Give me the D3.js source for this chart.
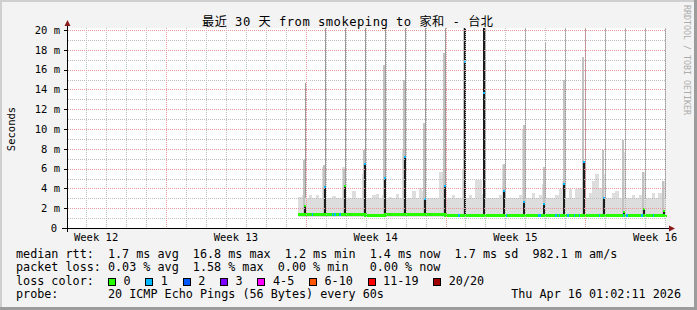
<!DOCTYPE html>
<html>
<head>
<meta charset="utf-8">
<script src="https://cdn.jsdelivr.net/npm/d3@7"></script>
<style>
body { margin: 0; background: #f3f3f3; }
text { font-family: "DejaVu Sans Mono", monospace; white-space: pre; }
</style>
</head>
<body>
<svg id="mainsvg" width="697" height="310"></svg>
<script>
const svg = d3.select('#mainsvg')
const width = +svg.attr('width')
const height = +svg.attr('height')

const parseDay = d3.timeParse('%Y-%m-%d')
const parseTime = d3.timeParse('%Y-%m-%d %H:%M')

// graph window: last 30 days up to the render time
const endTime = new Date(2026, 3, 16, 1, 2, 11)
const startTime = d3.timeDay.offset(endTime, -30)

const yTicks = [0, 2, 4, 6, 8, 10, 12, 14, 16, 18, 20]
const yTickLabels = ['0', '2 m', '4 m', '6 m', '8 m', '10 m', '12 m', '14 m', '16 m', '18 m', '20 m']

// smoke (light grey) upper edge, ms, one value per 4h from Mar 28 16:00
const dataStart = parseTime('2026-03-28 15:00')
const sampleStart = parseTime('2026-03-28 16:00')
const smokeLow = 1.1
const smokeTop = [
  3.1, 3.3,                         // Mar 28
  3.0, 3.3, 3.0, 3.3, 3.0, 6.2,     // Mar 29
  3.0, 3.0, 3.2, 3.0, 3.0, 6.2,     // Mar 30
  3.0, 3.0, 3.7, 3.0, 3.0, 5.5,     // Mar 31
  3.0, 3.0, 3.3, 3.4, 3.0, 3.3,     // Apr 1
  3.0, 3.15, 3.0, 3.4, 3.0, 7.9,    // Apr 2
  3.0, 3.0, 3.7, 3.0, 4.0, 3.7,     // Apr 3
  3.0, 3.0, 3.0, 3.0, 5.7, 5.7,     // Apr 4
  3.0, 3.0, 3.3, 3.0, 3.0, 5.9,     // Apr 5
  3.0, 3.3, 3.0, 4.8, 4.8, 3.4,     // Apr 6
  3.0, 3.0, 3.0, 3.0, 3.3, 6.4,     // Apr 7
  3.0, 3.0, 3.0, 3.0, 3.3, 10.0,    // Apr 8
  3.0, 3.0, 3.5, 3.0, 3.3, 4.4,     // Apr 9
  3.0, 3.0, 3.0, 3.3, 3.9, 4.7,     // Apr 10
  3.0, 3.9, 3.0, 3.9, 4.0, 5.0,     // Apr 11
  3.0, 3.5, 4.7, 5.5, 4.0, 5.5,     // Apr 12
  3.0, 3.0, 3.5, 3.7, 3.0, 7.7,     // Apr 13
  3.0, 3.0, 3.3, 3.0, 3.3, 5.7,     // Apr 14
  3.0, 3.0, 3.5, 3.0, 3.5, 4.7,     // Apr 15
  3.4                               // Apr 16
]

// median rtt baseline per day, ms
const medianDays = ['2026-03-28', '2026-03-29', '2026-03-30', '2026-03-31', '2026-04-01',
  '2026-04-02', '2026-04-03', '2026-04-04', '2026-04-05', '2026-04-06', '2026-04-07',
  '2026-04-08', '2026-04-09', '2026-04-10', '2026-04-11', '2026-04-12', '2026-04-13',
  '2026-04-14', '2026-04-15', '2026-04-16']
const medianBase = [1.4, 1.35, 1.35, 1.35, 1.3, 1.35, 1.35, 1.35, 1.3, 1.3,
  1.3, 1.3, 1.25, 1.25, 1.25, 1.25, 1.25, 1.25, 1.25, 1.3]

// moments where the median had 1/20 loss (blue)
const lossOneTimes = ['2026-03-29 07:00', '2026-03-30 07:00', '2026-03-30 10:00', '2026-03-30 16:00',
  '2026-04-05 15:00', '2026-04-08 00:30', '2026-04-09 15:00', '2026-04-09 17:00',
  '2026-04-10 12:00', '2026-04-10 16:00', '2026-04-11 02:00', '2026-04-11 10:00',
  '2026-04-11 16:00', '2026-04-12 16:00', '2026-04-13 21:00', '2026-04-14 01:00',
  '2026-04-14 19:00', '2026-04-15 09:00']

// nightly spikes around midnight
const spikeDays = ['2026-03-29', '2026-03-30', '2026-03-31', '2026-04-01', '2026-04-02',
  '2026-04-03', '2026-04-04', '2026-04-05', '2026-04-06', '2026-04-07', '2026-04-08',
  '2026-04-09', '2026-04-10', '2026-04-11', '2026-04-12', '2026-04-13', '2026-04-14',
  '2026-04-15', '2026-04-16']
const spikeMedian = [2.2, 4.1, 4.2, 6.5, 5.1, 7.2, 2.9, 4.2, 16.8, 13.6, 3.7, 2.6, 2.4, 4.4, 6.7, 3.0, 1.6, 1.9, 1.7]
const spikeLoss = [0, 1, 0, 1, 1, 1, 1, 1, 1, 1, 1, 1, 1, 1, 1, 1, 0, 0, 0]
const spikeDark = [2.2, 4.2, 4.2, 6.6, 5.1, 7.2, 2.9, 4.2, 20.5, 20.5, 3.6, 2.7, 2.4, 4.5, 6.8, 3.0, 1.7, 1.9, 1.8]
const spikeMid = [6.9, 6.4, 6.0, 7.9, 16.5, 15.0, 10.6, 17.7, 20.5, 20.5, 6.5, 10.4, 6.2, 15.0, 17.3, 7.9, 8.9, 5.7, 4.7]
const spikeMax = [14.6, 20.5, 20.5, 20.5, 20.5, 20.5, 20.5, 20.5, 20.5, 20.5, 17.0, 20.5, 18.7, 20.5, 20.5, 20.5, 20.5, 20.5, 20.5]

const lossLabels = ['0', '1', '2', '3', '4-5', '6-10', '11-19', '20/20']
const lossColors = ['#26ff00', '#00b8ff', '#0059ff', '#7e00ff', '#ff00ff', '#ff5500', '#ff0000', '#a10000']

const legendLines = [
  'median rtt:  1.7 ms avg  16.8 ms max  1.2 ms min  1.4 ms now  1.7 ms sd  982.1 m am/s',
  'packet loss: 0.03 % avg  1.58 % max  0.00 % min   0.00 % now'
]
const probeText = '20 ICMP Echo Pings (56 Bytes) every 60s'
const title = '最近 30 天 from smokeping to 家和 - 台北'

// ---------------------------------------------------------------
const plot = { left: 67, right: 666, top: 30, bottom: 228 }
const x = d3.scaleTime().domain([startTime, endTime]).range([plot.left, plot.right])
const y = d3.scaleLinear().domain([0, 20]).range([plot.bottom, plot.top])
const px = v => Math.round(v) + 0.5

// frame
svg.append('rect').attr('width', width).attr('height', height).attr('fill', '#f3f3f3')
svg.append('path').attr('d', `M1,${height} V1 H${width}`).attr('stroke', '#cfcfcf').attr('stroke-width', 2).attr('fill', 'none')
svg.append('path').attr('d', `M0,${height - 1.5} H${width - 1.5} V0`).attr('stroke', '#9c9c9c').attr('stroke-width', 3).attr('fill', 'none')

svg.append('rect').attr('x', plot.left).attr('y', plot.top - 2)
  .attr('width', plot.right - plot.left).attr('height', plot.bottom - plot.top + 2).attr('fill', '#fff')

svg.append('clipPath').attr('id', 'clip').append('rect')
  .attr('x', plot.left + 1).attr('y', plot.top - 2)
  .attr('width', plot.right - plot.left).attr('height', plot.bottom - plot.top + 2)

const g = svg.append('g').attr('clip-path', 'url(#clip)').attr('shape-rendering', 'crispEdges')

// smoke
const samples = smokeTop.map((v, i) => ({ t: d3.timeHour.offset(sampleStart, 4 * i), v }))
samples.unshift({ t: dataStart, v: smokeTop[0] })
samples.push({ t: endTime, v: smokeTop[smokeTop.length - 1] })

const smokeArea = d3.area().curve(d3.curveStepAfter)
  .x(d => x(d.t)).y0(y(smokeLow)).y1(d => y(d.v))
g.append('path').datum(samples).attr('d', smokeArea).attr('fill', '#dddddd')

const spikes = spikeDays.map((d, i) => ({
  t: d3.timeMinute.offset(parseDay(d), -20),
  med: spikeMedian[i], loss: spikeLoss[i], dark: spikeDark[i], mid: spikeMid[i], max: spikeMax[i]
}))

// medium grey shoulders, left of the core
g.selectAll('rect.mid').data(spikes).join('rect').attr('class', 'mid')
  .attr('x', d => Math.round(x(d3.timeHour.offset(d.t, -2.6)))).attr('width', 2)
  .attr('y', d => y(d.mid)).attr('height', d => y(1.2) - y(d.mid))
  .attr('fill', '#c2c2c2')

// thin max lines
g.selectAll('line.max').data(spikes).join('line').attr('class', 'max')
  .attr('x1', d => px(x(d.t))).attr('x2', d => px(x(d.t)))
  .attr('y1', y(3)).attr('y2', d => y(d.max))
  .attr('stroke', '#9a9a9a').attr('stroke-width', 1)

// dark cores
g.selectAll('rect.dark').data(spikes).join('rect').attr('class', 'dark')
  .attr('x', d => Math.round(x(d3.timeHour.offset(d.t, -1.2)))).attr('width', 2)
  .attr('y', d => y(d.dark)).attr('height', d => y(1.2) - y(d.dark))
  .attr('fill', '#1c1c1c')

// dotted grid over the data (as rrdtool does), one 1px rect per dot
const minorY = d3.range(1, 20, 2)
const days = d3.timeDay.range(startTime, endTime)
const weeks = d3.timeSunday.range(startTime, endTime)
const grid = svg.append('g').attr('shape-rendering', 'crispEdges')
const dotXs = d3.range(plot.left + 1, plot.right, 2)
const dotYs = d3.range(plot.top - 2, plot.bottom, 2)
const hDots = (vals, color) => vals.forEach(v => {
  grid.append('g').selectAll('rect').data(dotXs).join('rect')
    .attr('x', d => d).attr('y', Math.round(y(v))).attr('width', 1).attr('height', 1)
    .attr('fill', color)
})
const vDots = (dates, color) => dates.forEach(t => {
  grid.append('g').selectAll('rect').data(dotYs).join('rect')
    .attr('x', Math.round(x(t))).attr('y', d => d).attr('width', 1).attr('height', 1)
    .attr('fill', color)
})
hDots(minorY, '#bdbdbd')
vDots(days.filter(d => d.getDay() !== 0), '#bdbdbd')
hDots(yTicks.slice(1), '#e49a9a')
vDots(weeks, '#e49a9a')

// median line (green, 0 loss) with blue bits for 1/20 loss
const medianPts = medianDays.map((d, i) => ({ t: i === 0 ? dataStart : parseDay(d), v: medianBase[i] }))
medianPts.push({ t: endTime, v: medianBase[medianBase.length - 1] })
const medLine = d3.line().curve(d3.curveStepAfter).x(d => x(d.t)).y(d => y(d.v))
g.append('path').datum(medianPts).attr('d', medLine)
  .attr('fill', 'none').attr('stroke', lossColors[0]).attr('stroke-width', 3)

const medAt = t => medianBase[Math.max(0, d3.bisectRight(medianDays.map(parseDay), t) - 1)]
g.selectAll('rect.loss1').data(lossOneTimes.map(parseTime)).join('rect').attr('class', 'loss1')
  .attr('x', d => x(d)).attr('width', d => x(d3.timeHour.offset(d, 2)) - x(d))
  .attr('y', d => y(medAt(d)) - 1.5).attr('height', 3)
  .attr('fill', lossColors[1])

g.selectAll('rect.med').data(spikes).join('rect').attr('class', 'med')
  .attr('x', d => Math.round(x(d3.timeHour.offset(d.t, -1.2)))).attr('width', 2)
  .attr('y', d => y(d.med) - 1).attr('height', 2)
  .attr('fill', d => lossColors[d.loss])

// axes
const axes = svg.append('g').attr('shape-rendering', 'crispEdges')
axes.append('line').attr('x1', plot.left - 5).attr('x2', plot.right + 4)
  .attr('y1', px(y(0))).attr('y2', px(y(0))).attr('stroke', '#000')
axes.append('line').attr('x1', px(plot.left)).attr('x2', px(plot.left))
  .attr('y1', plot.bottom + 4).attr('y2', plot.top - 6).attr('stroke', '#000')
axes.selectAll('line.tick').data(yTicks.slice(1)).join('line')
  .attr('x1', plot.left - 3).attr('x2', plot.left).attr('y1', d => px(y(d))).attr('y2', d => px(y(d)))
  .attr('stroke', '#000')
svg.append('path').attr('d', `M${plot.left - 2.5},${plot.top - 4} L${plot.left + 3.5},${plot.top - 4} L${plot.left + 0.5},${plot.top - 10} Z`)
  .attr('fill', '#8b1a1a')
svg.append('path').attr('d', `M${plot.right + 3},${plot.bottom - 2.5} L${plot.right + 3},${plot.bottom + 3.5} L${plot.right + 9},${plot.bottom + 0.5} Z`)
  .attr('fill', '#8b1a1a')

svg.selectAll('text.ylab').data(yTicks).join('text').attr('class', 'ylab')
  .attr('x', d => d === 0 ? 57 : 60).attr('y', d => y(d) + 3.8)
  .attr('text-anchor', 'end').attr('font-size', '10.5px').attr('fill', '#000')
  .text((d, i) => yTickLabels[i])

const weekFmt = d3.timeFormat('Week %V')
svg.selectAll('text.xlab')
  .data([d3.timeSunday.offset(weeks[0], -1)].concat(weeks).map(d => d3.timeHour.offset(d, 84)))
  .join('text').attr('class', 'xlab')
  .attr('x', d => x(d)).attr('y', 240.5)
  .attr('text-anchor', 'middle').attr('font-size', '10.5px').attr('fill', '#000')
  .text(d => weekFmt(d))

svg.append('text').attr('transform', `translate(14.5, ${(plot.top + plot.bottom) / 2}) rotate(-90)`)
  .attr('text-anchor', 'middle').attr('font-size', '10.5px').text('Seconds')

svg.append('text').attr('x', 202).attr('y', 26)
  .attr('font-size', '12.2px').attr('fill', '#000')
  .attr('textLength', 291).attr('lengthAdjust', 'spacing')
  .style('font-family', '"DejaVu Sans Mono", "Noto Sans CJK SC", monospace')
  .text(title)

svg.append('text').attr('transform', 'translate(683.5, 5) rotate(90)')
  .attr('font-size', '8.3px').attr('fill', '#acacac').text('RRDTOOL / TOBI OETIKER')

// legend
const lf = 11.75
const pitch = lf * 0.6021
const legend = svg.append('g').attr('font-size', lf + 'px').attr('fill', '#000')
legend.selectAll('text.ll').data(legendLines).join('text').attr('class', 'll')
  .attr('x', 16).attr('y', (d, i) => 257.5 + i * 13.6).text(d => d)
legend.append('text').attr('x', 16).attr('y', 284.7).text('loss color:')
legend.append('text').attr('x', 16).attr('y', 298.3).text('probe:')
legend.append('text').attr('x', 16 + 13 * pitch).attr('y', 298.3).text(probeText)
legend.append('text').attr('x', 681).attr('y', 298.3).attr('text-anchor', 'end')
  .text(d3.timeFormat('%a %b %d %H:%M:%S %Y')(endTime))

let bx = 108.5
lossLabels.forEach((lab, i) => {
  legend.append('rect').attr('x', bx).attr('y', 278.5).attr('width', 7).attr('height', 7)
    .attr('fill', lossColors[i]).attr('stroke', '#000').attr('stroke-width', 1)
    .attr('shape-rendering', 'crispEdges')
  legend.append('text').attr('x', bx + 15).attr('y', 284.7).text(lab)
  bx += 15 + lab.length * pitch + 15.3
})
</script>
</body>
</html>
